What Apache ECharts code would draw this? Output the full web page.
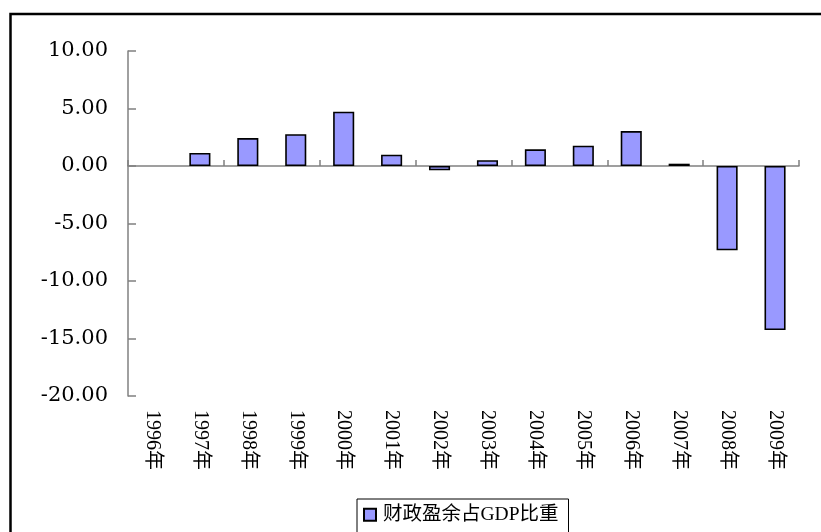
<!DOCTYPE html>
<html>
<head>
<meta charset="utf-8">
<script src="https://cdn.jsdelivr.net/npm/echarts@6/dist/echarts.min.js"></script>
<style>html,body{margin:0;padding:0;background:#fff;}#c{width:821px;height:532px;}</style>
</head>
<body>
<div id="c"></div>
<script>
var categories = ['1996年','1997年','1998年','1999年','2000年','2001年','2002年','2003年','2004年','2005年','2006年','2007年','2008年','2009年'];
var surplusRatio = [null, 1.13, 2.43, 2.76, 4.72, 0.98, -0.38, 0.50, 1.45, 1.77, 3.04, 0.20, -7.33, -14.26];
var seriesName = '财政盈余占GDP比重';
var yMin = -20, yMax = 10, yStep = 5;

var chart = echarts.init(document.getElementById('c'), null, {renderer: 'canvas'});
chart.setOption({
  animation: false,
  backgroundColor: '#fff',
  graphic: [{
    type: 'rect', z: -1, silent: true,
    shape: {x: 10.5, y: 14, width: 900, height: 600},
    style: {fill: 'none', stroke: '#000', lineWidth: 2.5}
  }],
  grid: {left: 128, right: 22, top: 51, bottom: 136, containLabel: false},
  legend: {
    data: [seriesName],
    left: 357, top: 499,
    padding: [6, 10, 14, 6],
    borderColor: '#000', borderWidth: 1, backgroundColor: '#fff',
    icon: 'rect', itemWidth: 12, itemHeight: 12,
    itemStyle: {color: '#9999FF', borderColor: '#000', borderWidth: 2},
    textStyle: {fontFamily: "'Liberation Serif','Noto Sans CJK SC'", fontSize: 19.5, color: '#000', padding: [0, 0, 0, 2]}
  },
  xAxis: [{
    type: 'category', data: categories, position: 'bottom',
    axisLine: {show: true, onZero: true, lineStyle: {color: '#808080', width: 1.5}},
    axisTick: {show: true, inside: true, length: 6, lineStyle: {color: '#808080', width: 1.5}},
    axisLabel: {show: false},
    splitLine: {show: false}
  }, {
    type: 'category', data: categories, position: 'bottom',
    axisLine: {show: false, onZero: false},
    axisTick: {show: false},
    axisLabel: {show: true, rotate: -90, margin: 14, color: '#000',
      fontFamily: "'Liberation Serif','Noto Sans CJK SC'", fontSize: 20},
    splitLine: {show: false}
  }],
  yAxis: {
    type: 'value', min: yMin, max: yMax, interval: yStep,
    axisLine: {show: true, onZero: false, lineStyle: {color: '#808080', width: 1.5}},
    axisTick: {show: true, inside: true, length: 8, lineStyle: {color: '#808080', width: 1.5}},
    axisLabel: {margin: 20, color: '#000', fontFamily: "'DejaVu Serif'", fontSize: 21,
      formatter: function (v) { return v.toFixed(2); }},
    splitLine: {show: false}
  },
  series: [{
    name: seriesName, type: 'bar', xAxisIndex: 0, data: surplusRatio,
    barWidth: '44%',
    itemStyle: {color: '#9999FF', borderColor: '#000', borderWidth: 1.6}
  }]
});
</script>
</body>
</html>
